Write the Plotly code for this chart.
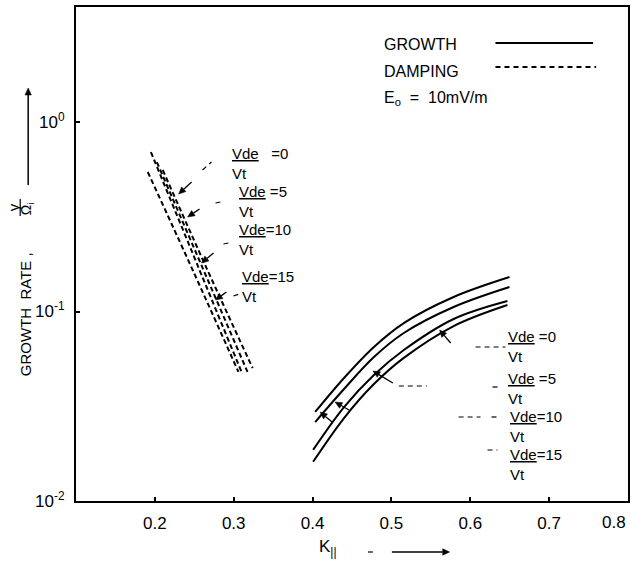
import math
import plotly.graph_objects as go

# ---------------- data ----------------
# damping curves (dashed), K_parallel vs growth rate gamma/Omega_i
damp_k_1 = [0.195, 0.254, 0.311]
damp_g_1 = [0.694, 0.176, 0.0468]
damp_k_2 = [0.191, 0.249, 0.306]
damp_g_2 = [0.545, 0.162, 0.048]
damp_k_3 = [0.2025, 0.260, 0.3175]
damp_g_3 = [0.615, 0.172, 0.048]
damp_k_4 = [0.210, 0.266, 0.324]
damp_g_4 = [0.558, 0.168, 0.0503]

# growth curves (solid)
grow_k_1 = [0.4033, 0.4399, 0.4778, 0.5157, 0.5789, 0.6497]
grow_g_1 = [0.0295, 0.0446, 0.0650, 0.0869, 0.1193, 0.152]
grow_k_2 = [0.4033, 0.4399, 0.4778, 0.5157, 0.5789, 0.6497]
grow_g_2 = [0.0261, 0.0390, 0.0575, 0.0770, 0.1056, 0.1346]
grow_k_3 = [0.4007, 0.4399, 0.4778, 0.5157, 0.5789, 0.6471]
grow_g_3 = [0.0186, 0.0313, 0.0462, 0.0626, 0.0913, 0.1136]
grow_k_4 = [0.4007, 0.4399, 0.4778, 0.5157, 0.5789, 0.6471]
grow_g_4 = [0.0161, 0.0274, 0.0414, 0.0569, 0.0838, 0.1082]

x_tick_vals = [0.2, 0.3, 0.4, 0.5, 0.6, 0.7]
x_tick_text = ["0.2", "0.3", "0.4", "0.5", "0.6", "0.7"]
x_edge_label = "0.8"
y_tick_vals = [0.01, 0.1, 1]
y_tick_text = ["10<sup>-2</sup>", "10<sup>-1</sup>", "10<sup>0</sup>"]

label_values = ["0", "5", "10", "15"]

# ---------------- figure ----------------
W, H = 631, 562
PL, PT, PR, PB = 76, 7, 1, 61
PW, PH = W - PL - PR, H - PT - PB
FONT = "Liberation Sans, Arial, sans-serif"


def px(x):
    return (x - PL) / PW


def py(y):
    return 1 - (y - PT) / PH


fig = go.Figure()

for k, g in [(damp_k_1, damp_g_1), (damp_k_2, damp_g_2),
             (damp_k_3, damp_g_3), (damp_k_4, damp_g_4)]:
    fig.add_trace(go.Scatter(x=k, y=g, mode="lines", showlegend=False,
                             line=dict(color="black", width=2, dash="5px,3px",
                                       shape="spline")))

for k, g in [(grow_k_1, grow_g_1), (grow_k_2, grow_g_2),
             (grow_k_3, grow_g_3), (grow_k_4, grow_g_4)]:
    fig.add_trace(go.Scatter(x=k, y=g, mode="lines", showlegend=False,
                             line=dict(color="black", width=2, shape="spline")))

ann = []
shapes = []


def text_ann(txt, x, y, size, xa="left", ya="middle", angle=0):
    return dict(text=txt, x=px(x), y=py(y), xref="paper", yref="paper",
                xanchor=xa, yanchor=ya, textangle=angle, showarrow=False,
                font=dict(size=size, family=FONT, color="black"))


def seg(x0, y0, x1, y1, width=1.3, dash=None):
    ln = dict(color="black", width=width)
    if dash:
        ln["dash"] = dash
    shapes.append(dict(type="line", xref="paper", yref="paper", x0=px(x0), x1=px(x1),
                       y0=py(y0), y1=py(y1), line=ln))


def arrow(hx, hy, tx, ty, width=1.3, hl=7.0, hw=3.2):
    d = math.hypot(hx - tx, hy - ty)
    ux, uy = (hx - tx) / d, (hy - ty) / d
    bx, by = hx - ux * hl, hy - uy * hl
    seg(tx, ty, bx, by, width)
    p1 = (bx - uy * hw, by + ux * hw)
    p2 = (bx + uy * hw, by - ux * hw)
    path = "M {} {} L {} {} L {} {} Z".format(px(hx), py(hy), px(p1[0]), py(p1[1]),
                                              px(p2[0]), py(p2[1]))
    shapes.append(dict(type="path", xref="paper", yref="paper", path=path,
                       fillcolor="black", line=dict(color="black", width=0.5)))


# legend block
ann.append(text_ann("GROWTH", 383, 45, 16))
ann.append(text_ann("DAMPING", 383, 72, 16))
ann.append(text_ann("E<sub>o</sub>  =  10mV/m", 383, 99, 16))
seg(497, 43, 595, 43, 2)
seg(497, 67, 598, 67, 2, "5px,4px")


# ratio labels
def ratio_label(x, y, val, sep):
    txt = "<u>Vde</u>" + sep + "=" + val + "<br>Vt"
    return dict(text=txt, x=px(x), y=py(y), xref="paper", yref="paper",
                xanchor="left", yanchor="top", align="left", showarrow=False,
                font=dict(size=15, family=FONT, color="black"))


left_pos = [(231, 143), (238, 181), (238, 219), (241, 266)]
left_sep = ["   ", " ", "", ""]
right_pos = [(508, 326), (508, 368), (510, 406), (510, 444)]
right_sep = [" ", " ", "", ""]
for i, v in enumerate(label_values):
    ann.append(ratio_label(*left_pos[i], v, left_sep[i]))
    ann.append(ratio_label(*right_pos[i], v, right_sep[i]))

# arrows to curves (head, tail)
arrows = [((179, 194), (192, 182)), ((188, 217), (200, 209)),
          ((202, 263), (214, 253)), ((216, 300), (227, 292)),
          ((441, 330), (452, 343)), ((374, 371), (394, 383)),
          ((336, 402), (350, 410)), ((321, 412), (333, 422))]
for (hx, hy), (tx, ty) in arrows:
    arrow(hx, hy, tx, ty)

# leader fragments
fragments = [(203, 170, 212, 162), (216, 203, 221, 202), (224, 244, 229, 243),
             (234, 296, 240, 294), (477, 347, 507, 347), (400, 386, 428, 386),
             (494, 387, 499, 387), (460, 417, 482, 417), (493, 417, 498, 417),
             (489, 450, 499, 450)]
for x0, y0, x1, y1 in fragments:
    seg(x0, y0, x1, y1, 1.2, "5px,4px")

# y-axis title (rotated)
ann.append(text_ann("GROWTH  RATE ,", 25, 314, 15, "center", "middle", -90))
ann.append(text_ann("γ", 13, 207, 15, "center", "middle", -90))
seg(20, 199, 20, 216, 1.2)
ann.append(text_ann("Ω<sub>i</sub>", 27, 209, 14, "center", "middle", -90))
arrow(28, 88, 28, 185, 1.5)

# x-axis title
ann.append(text_ann("K<sub>||</sub>", 318, 548, 17, "left", "middle"))
seg(369, 552, 374, 552, 1.2)
arrow(451, 552, 393, 552, 1.3)

# last tick label at the right edge
ann.append(text_ann(x_edge_label, 630, 522, 17, "right", "middle"))

fig.update_layout(
    width=W, height=H,
    margin=dict(l=PL, r=PR, t=PT, b=PB),
    paper_bgcolor="white", plot_bgcolor="white",
    font=dict(family=FONT, color="black"),
    annotations=ann, shapes=shapes, showlegend=False,
    xaxis=dict(range=[0.1, 0.8], tickvals=x_tick_vals, ticktext=x_tick_text,
               showgrid=False, zeroline=False, showline=True, linecolor="black",
               linewidth=2, mirror=True, ticks="inside", ticklen=4, tickwidth=1.5,
               tickcolor="black", tickfont=dict(size=17, family=FONT, color="black"),
               ticklabelstandoff=6),
    yaxis=dict(type="log", range=[-2, 0.607], tickvals=y_tick_vals, ticktext=y_tick_text,
               showgrid=False, zeroline=False, showline=True, linecolor="black",
               linewidth=2, mirror=True, ticks="inside", ticklen=4, tickwidth=1.5,
               tickcolor="black", tickfont=dict(size=17, family=FONT, color="black"),
               ticklabelstandoff=6),
)

fig.write_html("out.html", config={"displayModeBar": False},
               post_script="document.body.style.margin='0';document.body.style.padding='0';"
                           "document.body.style.overflow='hidden';")
